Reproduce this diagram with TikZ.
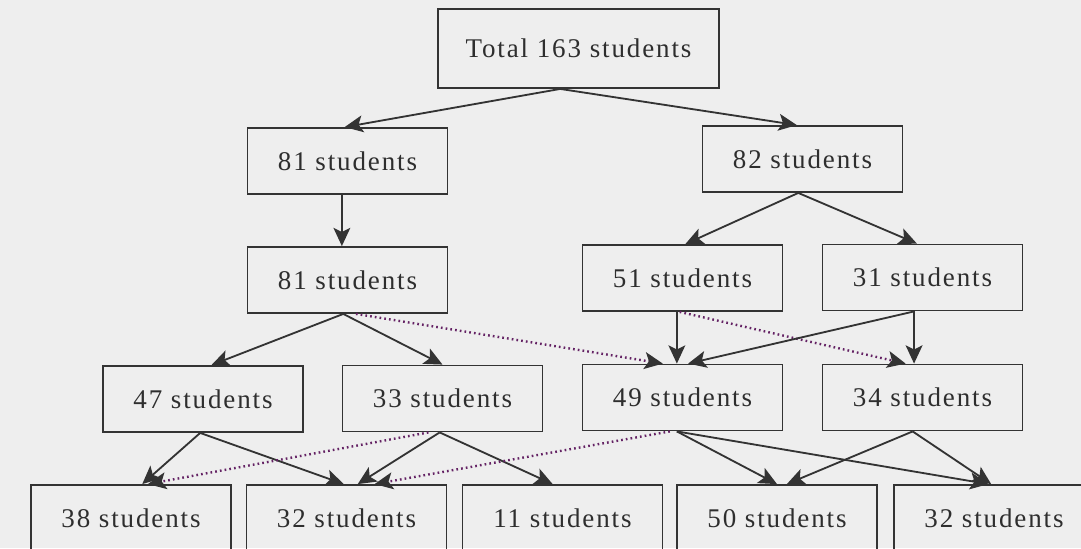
\documentclass[tikz,border=0pt]{standalone}
\usepackage{fontspec}
\setmainfont{Liberation Serif}[LetterSpace=7]
\usetikzlibrary{arrows.meta}

\definecolor{paper}{HTML}{EEEEEE}
\definecolor{ink}{HTML}{333333}
\definecolor{plum}{HTML}{642264}

\tikzset{
  box/.style = {draw = ink, line width = 1.3pt, minimum width = 5cm,
                minimum height = 1.65cm, inner sep = 0pt, text = ink!90!black,
                font = \fontsize{19.2pt}{23pt}\selectfont},
  flow/.style = {draw = ink, line width = 1.3pt,
                 -{Stealth[length = 13pt, width = 12pt, inset = 3pt]}},
  hint/.style = {draw = plum, line width = 1.7pt,
                 dash pattern = on 1.2pt off 2.2pt,
                 -{Stealth[length = 13pt, width = 12pt, inset = 3pt, color = ink]}}
}

\begin{document}
\begin{tikzpicture}[x = 0.025cm, y = -0.025cm]
    \useasboundingbox (0, 0) rectangle (1081, 548);
    \clip (0, 0) rectangle (1081, 548);
    \fill[paper] (0, 0) rectangle (1081, 548);

    % top of the tree
    \node[box, minimum width = 7.025cm, minimum height = 1.975cm] (total) at (578.5, 48.5) {Total 163 students};

    \node[box] (n81a) at (347.5, 161) {81 students};
    \node[box] (n82)  at (802.5, 159) {82 students};

    \node[box] (n81b) at (347.5, 280) {81 students};
    \node[box] (n51)  at (682.5, 278) {51 students};
    \node[box] (n31)  at (922.5, 277.5) {31 students};

    \node[box] (n47) at (203, 399) {47 students};
    \node[box] (n33) at (442.5, 398.5) {33 students};
    \node[box] (n49) at (682.5, 397.5) {49 students};
    \node[box] (n34) at (922.5, 397.5) {34 students};

    % bottom row, cut by the edge of the page
    \node[box] (n38)  at (131, 518) {38 students};
    \node[box] (n32a) at (346.5, 518) {32 students};
    \node[box] (n11)  at (562.5, 518) {11 students};
    \node[box] (n50)  at (777, 518) {50 students};
    \node[box] (n32b) at (994, 518) {32 students};

    \draw[flow] ([xshift = -13pt]total.south) -- ([xshift = -2pt]n81a.north);
    \draw[flow] ([xshift = -13pt]total.south) -- ([xshift = -4pt]n82.north);

    \draw[flow] ([xshift = -4pt]n81a.south) -- ([xshift = -4pt]n81b.north);
    \draw[flow] ([xshift = -3pt]n82.south) -- ([xshift = 2pt]n51.north);
    \draw[flow] ([xshift = -3pt]n82.south) -- ([xshift = -4pt]n31.north);

    \draw[flow] ([xshift = -3pt]n81b.south) -- ([xshift = 6pt]n47.north);
    \draw[flow] ([xshift = -3pt]n81b.south) -- (n33.north);
    \draw[hint] ([xshift = 6pt]n81b.south) -- ([xshift = -14pt]n49.north);

    \draw[flow] ([xshift = -4pt]n51.south) -- ([xshift = -4pt]n49.north);
    \draw[hint] ([xshift = -2pt]n51.south) -- ([xshift = -12pt]n34.north);
    \draw[flow] ([xshift = -6pt]n31.south) -- ([xshift = 4pt]n49.north);
    \draw[flow] ([xshift = -6pt]n31.south) -- ([xshift = -6pt]n34.north);

    \draw[flow] ([xshift = -2pt]n47.south) -- ([xshift = 8pt]n38.north);
    \draw[flow] ([xshift = -2pt]n47.south) -- ([xshift = -2pt]n32a.north);

    \draw[flow] ([xshift = -2pt]n33.south) -- ([xshift = 8pt]n32a.north);
    \draw[flow] ([xshift = -2pt]n33.south) -- ([xshift = -7pt]n11.north);
    \draw[hint] ([xshift = -10pt]n33.south) -- ([xshift = 12pt]n38.north);

    \draw[hint] ([xshift = -9pt]n49.south) -- ([xshift = 20pt]n32a.north);
    \draw[flow] ([xshift = -4pt]n49.south) -- (n50.north);
    \draw[flow] ([xshift = -4pt]n49.south) -- ([xshift = -4pt]n32b.north);

    \draw[flow] ([xshift = -7pt]n34.south) -- ([xshift = 7pt]n50.north);
    \draw[flow] ([xshift = -7pt]n34.south) -- ([xshift = -2pt]n32b.north);
\end{tikzpicture}
\end{document}
